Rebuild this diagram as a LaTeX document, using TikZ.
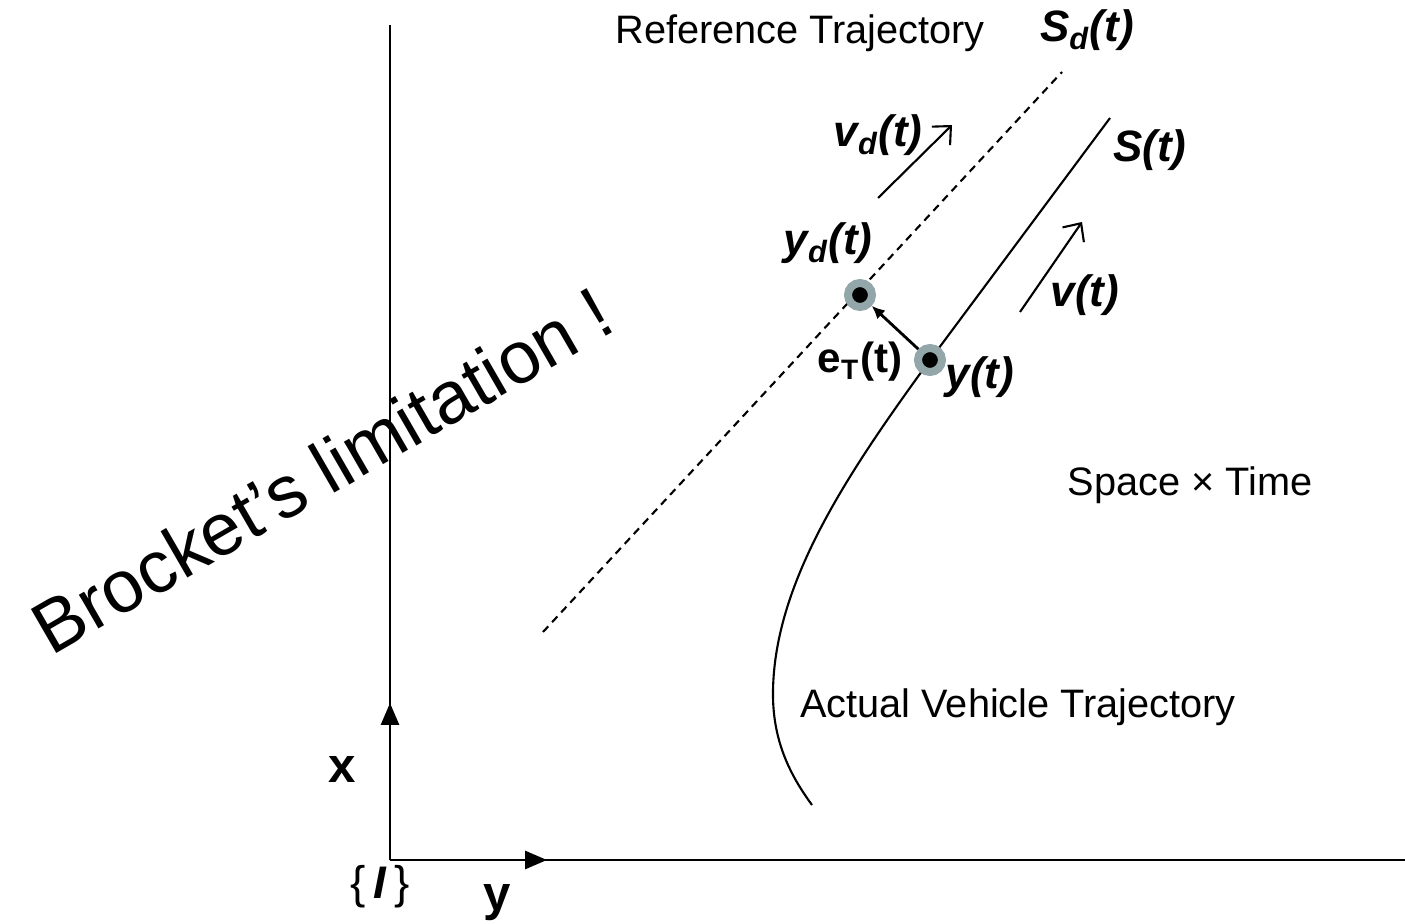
\documentclass[tikz,border=0pt]{standalone}
\usepackage{fontspec}
\setmainfont{Liberation Sans}
\usetikzlibrary{arrows.meta}
\definecolor{halo}{HTML}{93A7AB}

\begin{document}
\begin{tikzpicture}[
    x=0.1mm,y=-0.1mm,
    every node/.style={font=\fontsize{11.3}{13}\selectfont,inner sep=1pt},
    lbl/.style={font=\fontsize{12.5}{14}\selectfont\bfseries\itshape},
    axis/.style={line width=0.8pt},
    traj/.style={line width=0.6pt},
    speed/.style={line width=0.6pt,-{Straight Barb[length=1.4mm,width=2.6mm]}},
    dot/.style={circle,fill=black,draw=halo,line width=0.8mm,minimum size=2.4mm,inner sep=0pt},
  ]
  \useasboundingbox (0,0) rectangle (1405,924);

  \coordinate (O) at (390,860);
  \coordinate (xend) at (390,25);
  \coordinate (xarr) at (390,703);
  \coordinate (yend) at (1405,860);
  \coordinate (yarr) at (547,860);
  \draw[axis] (O) -- (xend);
  \draw[axis] (O) -- (yend);
  \draw[axis,-{Triangle[length=2.2mm,width=1.8mm]}] (O) -- (xarr);
  \draw[axis,-{Triangle[length=2.2mm,width=1.8mm]}] (O) -- (yarr);

  \node[font=\fontsize{14}{16}\selectfont\bfseries] (xlab) at (342,770) {x};
  \node[font=\fontsize{14}{16}\selectfont\bfseries] (ylab) at (497,903) {y};
  \node[font=\fontsize{13}{15}\selectfont] (frame) at (380,887) {\{\,\textbf{\textit{I}}\,\}};

  \coordinate (ds) at (543,632);
  \coordinate (de) at (1062,72);
  \draw[traj,dash pattern=on 2.2pt off 1.6pt] (ds) -- (de);

  \coordinate (ptd) at (860,295);
  \coordinate (pt) at (930,360);
  \coordinate (se) at (1110,118);
  \coordinate (sb) at (812,805);
  \draw[traj] (se) -- (pt) .. controls (850,470) and (775,580) .. (773,690)
    .. controls (772,740) and (790,775) .. (sb);

  \coordinate (vds) at (878,198);
  \coordinate (vde) at (952,125);
  \coordinate (vs) at (1020,312);
  \coordinate (ve) at (1082,222);
  \draw[speed] (vds) -- (vde);
  \draw[speed] (vs) -- (ve);

  \node[dot] (yd) at (ptd) {};
  \node[dot] (yy) at (pt) {};
  \draw[line width=0.8pt,-{Latex[length=1.3mm,width=1.2mm]}] (yy) -- (yd);

  \node (ref) at (800,33) {Reference Trajectory};
  \node[lbl] (sd) at (1087,30) {S\textsubscript{d}(t)};
  \node[lbl] (vdl) at (878,135) {v\textsubscript{d}(t)};
  \node[lbl] (sl) at (1150,150) {S(t)};
  \node[lbl] (ydl) at (828,243) {y\textsubscript{d}(t)};
  \node[lbl] (vl) at (1085,295) {v(t)};
  \node[font=\fontsize{12}{14}\selectfont\bfseries] (el) at (860,362) {e\textsubscript{T}(t)};
  \node[lbl] (yl) at (980,377) {y(t)};
  \node (st) at (1190,485) {Space × Time};
  \node (act) at (1018,707) {Actual Vehicle Trajectory};

  \node[font=\fontsize{21}{25}\selectfont,rotate=30] (brock) at (322,470) {Brocket’s limitation !};
\end{tikzpicture}
\end{document}
